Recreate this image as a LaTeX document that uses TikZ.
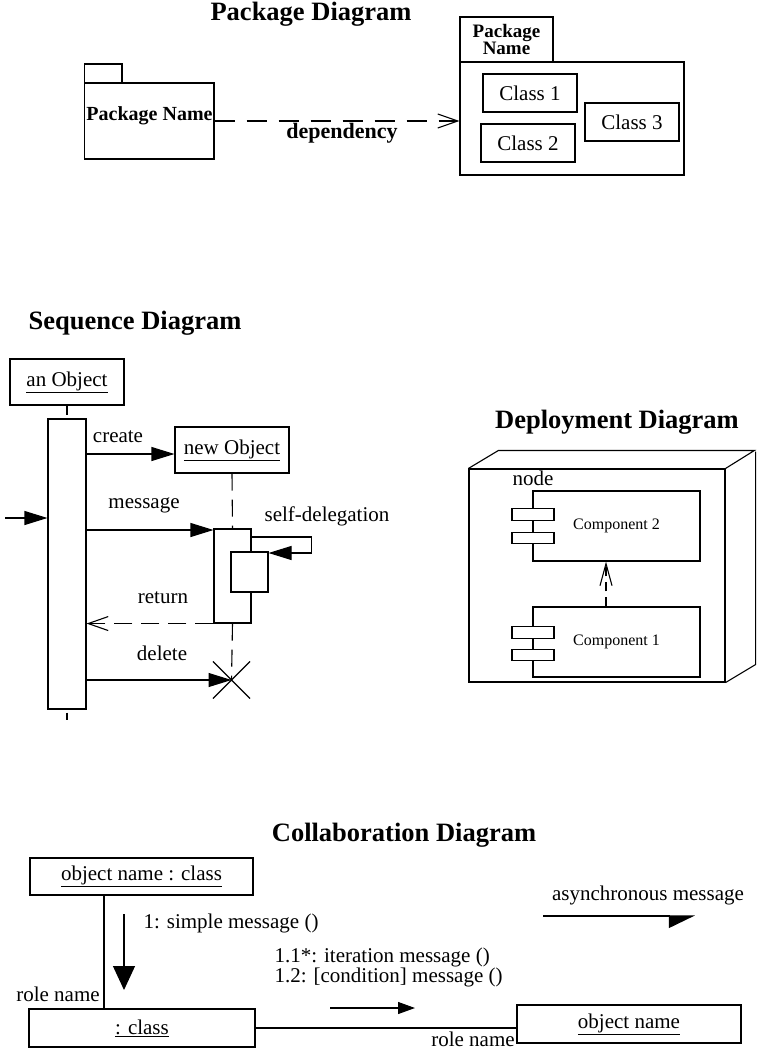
\documentclass[tikz,border=0pt]{standalone}
\usepackage{fontspec}
\setmainfont{Liberation Serif}
\usetikzlibrary{arrows.meta,shapes.misc,calc}
\begin{document}
\begin{tikzpicture}[x=1pt,y=-1pt,line width=1.1pt,
  box/.style={draw,inner sep=0pt,line width=1.1pt},
  wbox/.style={box,fill=white},
  ttl/.style={font=\fontsize{26.5}{29}\selectfont\bfseries,inner sep=0pt},
  txt/.style={font=\fontsize{21}{24}\selectfont,inner sep=0pt},
  ctxt/.style={font=\fontsize{16}{19}\selectfont,inner sep=0pt},
  btxt/.style={font=\fontsize{20}{22}\selectfont\bfseries,inner sep=0pt},
  msg/.style={-{Triangle[length=23pt,width=14pt]}},
  openarr/.style={-{Straight Barb[length=20pt,width=14pt]}},
  lifeline/.style={dash pattern=on 17pt off 9pt},
]
\useasboundingbox (0,0) rectangle (761,1049);

% ---------------- Package diagram ----------------
\node[ttl] (tpkg) at (311,14) {Package Diagram};
\node[box,minimum width=37.5pt,minimum height=19pt] (ltab) at (103.25,73.5) {};
\node[box,minimum width=129.5pt,minimum height=76pt] (lpkg) at (149.25,121) {};
\node[btxt] (lpkgname) at (149.5,116) {Package Name};
\node[box,minimum width=93pt,minimum height=45pt,align=center,
      font=\fontsize{19}{17}\selectfont\bfseries] (rtab) at (506.5,39.5) {Package\\Name};
\node[box,minimum width=224pt,minimum height=113pt] (rpkg) at (572,118.5) {};
\node[box,txt,minimum width=94pt,minimum height=38pt] (c1) at (530,93) {Class 1};
\node[box,txt,minimum width=94pt,minimum height=38pt] (c2) at (528,143) {Class 2};
\node[box,txt,minimum width=94pt,minimum height=38pt] (c3) at (632,122) {Class 3};
\draw[openarr,dash pattern=on 20pt off 12pt] (lpkg.east) -- (lpkg.east -| rpkg.west);
\node[font=\fontsize{22}{24}\selectfont\bfseries,inner sep=0pt] (deplbl) at (342,133) {dependency};

% ---------------- Sequence diagram ----------------
\node[ttl] (tseq) at (135,323) {Sequence Diagram};
\node[box,txt,minimum width=114pt,minimum height=46pt] (aobj) at (67,382) {\underline{an Object}};
\node[box,minimum width=38pt,minimum height=290pt] (bar) at (67,564) {};
\coordinate (lifeend) at (67,720);
\draw (aobj.south) -- ++(0,9);
\draw (bar.south) ++(0,3) -- (lifeend);
\node[box,txt,minimum width=114pt,minimum height=46pt] (nobj) at (232,450) {\underline{new Object}};
\node[box,minimum width=37pt,minimum height=94pt] (act2) at (232.5,576) {};
\node[wbox,minimum width=37pt,minimum height=40pt] (act3) at (249.5,572) {};
\node[cross out,draw,inner sep=0pt,minimum size=36pt,line width=1.1pt] (del) at (231.5,680) {};
\draw[lifeline] (nobj.south) -- (act2.north);
\draw[lifeline] (act2.south) -- (del.center);
\coordinate (in) at (5,518);
\draw[msg] (in) -- (bar.west |- in);
\draw[msg] (bar.east |- 0,454) -- (nobj.west |- 0,454);
\draw[msg] (bar.east |- 0,530) -- (act2.west |- 0,530);
\draw[msg] (act2.east |- 0,537) -- ++(60,0) |- (act3.east |- 0,553);
\draw[openarr,dash pattern=on 18pt off 9pt] (act2.south west) -- (bar.east |- act2.south);
\draw[msg] (bar.east |- del.center) -- (del.center);
\node[txt] (lcreate) at (118,437) {create};
\node[txt] (lmessage) at (144,505) {message};
\node[txt] (lself) at (327,516) {self-delegation};
\node[txt] (lreturn) at (163,598) {return};
\node[txt] (ldelete) at (162,653) {delete};

% ---------------- Deployment diagram ----------------
\node[ttl] (tdep) at (617,422) {Deployment Diagram};
\node[box,minimum width=256pt,minimum height=213pt] (dnode) at (597,575.5) {};
\draw (dnode.north west) -- ++(30,-18) -- ++(256,0) -- (dnode.north east);
\draw (dnode.south east) -- ++(30,-18) -- ++(0,-213);
\node[txt] (lnode) at (533,478) {node};
\node[box,ctxt,minimum width=167pt,minimum height=70pt] (cmp2) at (616.5,526) {Component 2};
\node[wbox,minimum width=42pt,minimum height=11.5pt] (cmp2a) at (533,514.5) {};
\node[wbox,minimum width=42pt,minimum height=11.5pt] (cmp2b) at (533,538) {};
\node[box,ctxt,minimum width=167pt,minimum height=70pt] (cmp1) at (616.5,642) {Component 1};
\node[wbox,minimum width=42pt,minimum height=11.5pt] (cmp1a) at (533,632.5) {};
\node[wbox,minimum width=42pt,minimum height=11.5pt] (cmp1b) at (533,655) {};
\draw[-{Straight Barb[length=22pt,width=12pt]},dash pattern=on 9pt off 6pt]
  ([xshift=-10.5pt]cmp1.north) -- ([xshift=-10.5pt]cmp2.south);

% ---------------- Collaboration diagram ----------------
\node[ttl] (tcol) at (404,835) {Collaboration Diagram};
\node[box,txt,minimum width=223pt,minimum height=37pt] (onc) at (141.5,876.5) {\underline{object name : class}};
\node[box,txt,minimum width=226pt,minimum height=38pt] (cls) at (142,1028) {\underline{: class}};
\node[box,txt,minimum width=224pt,minimum height=38pt] (on) at (629,1024) {\underline{object name}};
\coordinate (lx) at (104,0);
\draw (lx |- onc.south) -- (lx |- cls.north);
\draw (cls.east) -- (on.west |- cls.east);
\node[txt] (role1) at (58,994) {role name};
\node[txt] (role2) at (473,1039) {role name};
\coordinate (m1a) at (124,914);
\coordinate (m1b) at (124,990);
\draw[-{Triangle[length=24pt,width=22pt]}] (m1a) -- (m1b);
\node[txt,anchor=west] (lsimple) at (143,923) {1: simple message ()};
\node[txt,anchor=west] (liter) at (274,957) {1.1*: iteration message ()};
\node[txt,anchor=west] (lcond) at (274,977) {1.2: [condition] message ()};
\coordinate (m2a) at (330,1008);
\coordinate (m2b) at (415,1008);
\draw[-{Triangle[length=17pt,width=12pt]}] (m2a) -- (m2b);
\node[txt] (lasync) at (648,895) {asynchronous message};
\coordinate (m3a) at (543,916);
\coordinate (m3b) at (695,916);
\draw[-{Triangle[right,length=25pt,width=24pt]}] (m3a) -- (m3b);
\end{tikzpicture}
\end{document}
